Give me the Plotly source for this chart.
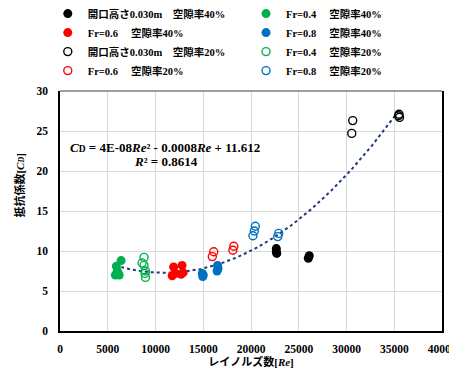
import numpy as np
import plotly.graph_objects as go

# ---- data ----
re_h030_40 = [22650, 22650, 22700, 26100, 26000]
cd_h030_40 = [10.3, 9.9, 9.7, 9.4, 9.1]
re_fr04_40 = [5800, 5900, 6000, 6100, 6200, 6400]
cd_fr04_40 = [7.0, 8.1, 7.5, 7.2, 7.0, 8.8]
re_fr06_40 = [11900, 12780, 11750, 12680, 12100, 12900]
cd_fr06_40 = [8.0, 8.2, 6.9, 7.1, 7.2, 7.3]
re_fr08_40 = [14900, 14950, 15000, 16500, 16550, 16450]
cd_fr08_40 = [7.2, 6.8, 7.0, 8.2, 7.8, 7.5]
re_h030_20 = [30650, 30550, 35500, 35550, 35450]
cd_h030_20 = [26.3, 24.7, 27.1, 26.7, 26.9]
re_fr04_20 = [8800, 8600, 8800, 8950, 8900, 8950]
cd_fr04_20 = [9.2, 8.5, 8.2, 7.5, 7.2, 6.7]
re_fr06_20 = [16100, 15950, 18200, 18100]
cd_fr06_20 = [9.9, 9.3, 10.6, 10.1]
re_fr08_20 = [20450, 20350, 20200, 22900, 22800]
cd_fr08_20 = [13.1, 12.5, 11.9, 12.2, 11.8]

x_ticks = [0, 5000, 10000, 15000, 20000, 25000, 30000, 35000, 40000]
y_ticks = [0, 5, 10, 15, 20, 25, 30]

SMALL_D = '<span style="font-size:9.5px">D</span>'
eq_text = "<b><i>C</i>" + SMALL_D + " = 4E-08<i>Re</i>² - 0.0008<i>Re</i> + 11.612</b>"
r2_text = "<b><i>R</i>² = 0.8614</b>"
ytitle_text = "<b>抵抗係数[<i>C</i><i>" + SMALL_D.replace("9.5px", "8px") + "</i>]</b>"
xtitle_text = "<b>レイノルズ数[<i>Re</i>]</b>"

SERIF = "Liberation Serif, Noto Sans CJK JP, serif"
GREEN, RED, BLUE, BLACK = "#00b050", "#ff0000", "#0070c0", "#000000"

fig = go.Figure()

# trendline: quadratic least-squares fit over all data
all_re = np.array(re_h030_40 + re_fr04_40 + re_fr06_40 + re_fr08_40 +
                  re_h030_20 + re_fr04_20 + re_fr06_20 + re_fr08_20, dtype=float)
all_cd = np.array(cd_h030_40 + cd_fr04_40 + cd_fr06_40 + cd_fr08_40 +
                  cd_h030_20 + cd_fr04_20 + cd_fr06_20 + cd_fr08_20, dtype=float)
coef = np.polyfit(all_re, all_cd, 2)
xs = np.linspace(all_re.min(), all_re.max(), 200)
fig.add_trace(go.Scatter(x=xs, y=np.polyval(coef, xs), mode="lines",
                         line=dict(color="#1f3a7a", width=2, dash="dot"),
                         showlegend=False, hoverinfo="skip"))

SZ = 9
def filled(x, y, c, name, legend):
    fig.add_trace(go.Scatter(x=x, y=y, mode="markers", name=name, legend=legend,
                             marker=dict(symbol="circle", size=SZ, color=c,
                                         line=dict(width=0))))

def hollow(x, y, c, name, legend):
    fig.add_trace(go.Scatter(x=x, y=y, mode="markers", name=name, legend=legend,
                             marker=dict(symbol="circle-open", size=SZ - 1, color=c,
                                         line=dict(width=1.4, color=c))))

# left legend column
filled(re_h030_40, cd_h030_40, BLACK, "<b>開口高さ0.030m　空隙率40%</b>", "legend")
filled(re_fr06_40, cd_fr06_40, RED, "<b>Fr=0.6　 空隙率40%</b>", "legend")
hollow(re_h030_20, cd_h030_20, BLACK, "<b>開口高さ0.030m　空隙率20%</b>", "legend")
hollow(re_fr06_20, cd_fr06_20, RED, "<b>Fr=0.6　 空隙率20%</b>", "legend")
# right legend column
filled(re_fr04_40, cd_fr04_40, GREEN, "<b>Fr=0.4　 空隙率40%</b>", "legend2")
filled(re_fr08_40, cd_fr08_40, BLUE, "<b>Fr=0.8　 空隙率40%</b>", "legend2")
hollow(re_fr04_20, cd_fr04_20, GREEN, "<b>Fr=0.4　 空隙率20%</b>", "legend2")
hollow(re_fr08_20, cd_fr08_20, BLUE, "<b>Fr=0.8　 空隙率20%</b>", "legend2")

# the page body adds an 8px margin, so the figure is 8px smaller and offset
OFF = 8
W, H = 457 - OFF, 369 - OFF
L, T, PW, PH = 59.5 - OFF, 91 - OFF, 382.5, 240

legend_common = dict(orientation="v", yanchor="top", xanchor="left",
                     bgcolor="rgba(0,0,0,0)", borderwidth=0, tracegroupgap=0,
                     font=dict(family=SERIF, size=10.5, color="black"))
fig.update_layout(
    width=W, height=H,
    margin=dict(l=L, r=W - L - PW, t=T, b=H - T - PH, autoexpand=False),
    paper_bgcolor="white", plot_bgcolor="white",
    legend=dict(x=-0.032, y=1.383, **legend_common),
    legend2=dict(x=0.487, y=1.383, **legend_common),
    xaxis=dict(range=[0, 40000], tickvals=x_ticks, ticktext=[f"<b>{v}</b>" for v in x_ticks],
               showgrid=True, gridcolor="#d9d9d9", gridwidth=1.3, zeroline=False,
               showline=True, linecolor="black", linewidth=1.5, ticks="",
               ticklabelstandoff=6,
               tickfont=dict(family=SERIF, size=11.5, color="black"),
               title=dict(text=xtitle_text, standoff=2,
                          font=dict(family=SERIF, size=11, color="black"))),
    yaxis=dict(range=[0, 30], tickvals=y_ticks, ticktext=[f"<b>{v}</b>" for v in y_ticks],
               showgrid=True, gridcolor="#d9d9d9", gridwidth=1.3, zeroline=False,
               showline=True, linecolor="black", linewidth=1.5, mirror=True, ticks="",
               ticklabelstandoff=8,
               tickfont=dict(family=SERIF, size=11.5, color="black")),
)

# top border (grey)
fig.add_shape(type="line", xref="paper", yref="paper", x0=0, x1=1, y0=1, y1=1,
              line=dict(color="#7f7f7f", width=1.5))

# y axis title
fig.add_annotation(text=ytitle_text, textangle=-90, xanchor="center", yanchor="middle",
                   xref="paper", yref="paper", x=(18 - 59.5) / PW, y=(331 - 186) / PH,
                   showarrow=False, font=dict(family=SERIF, size=11, color="black"))

# trendline equation
fig.add_annotation(text=eq_text, x=10950, y=22.9, showarrow=False,
                   xanchor="center", yanchor="middle",
                   font=dict(family=SERIF, size=13, color="black"))
fig.add_annotation(text=r2_text, x=11100, y=21.25, showarrow=False,
                   xanchor="center", yanchor="middle",
                   font=dict(family=SERIF, size=13, color="black"))

fig.write_html("out.html")
